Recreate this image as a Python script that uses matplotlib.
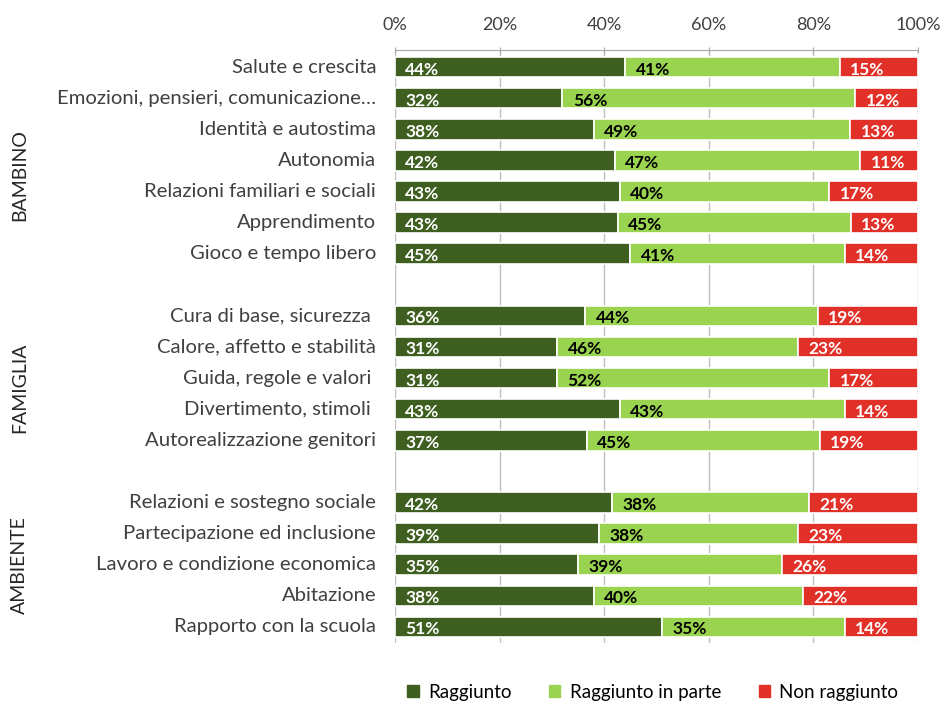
import matplotlib
matplotlib.use('Agg')
from matplotlib import pyplot as plt
from matplotlib.patches import Patch
import numpy as np

plt.rcParams['font.family'] = ['Lato', 'DejaVu Sans']

categories = [
    'Salute e crescita', 'Emozioni, pensieri, comunicazione…', 'Identità e autostima',
    'Autonomia', 'Relazioni familiari e sociali', 'Apprendimento', 'Gioco e tempo libero',
    None,
    'Cura di base, sicurezza ', 'Calore, affetto e stabilità', 'Guida, regole e valori ',
    'Divertimento, stimoli ', 'Autorealizzazione genitori',
    None,
    'Relazioni e sostegno sociale', 'Partecipazione ed inclusione',
    'Lavoro e condizione economica', 'Abitazione', 'Rapporto con la scuola',
]
raggiunto = [44, 32, 38, 42, 43, 43, 45, None, 36, 31, 31, 43, 37, None, 42, 39, 35, 38, 51]
in_parte = [41, 56, 49, 47, 40, 45, 41, None, 44, 46, 52, 43, 45, None, 38, 38, 39, 40, 35]
non_raggiunto = [15, 12, 13, 11, 17, 13, 14, None, 19, 23, 17, 14, 19, None, 21, 23, 26, 22, 14]

groups = ['BAMBINO', 'FAMIGLIA', 'AMBIENTE']
series_names = ['Raggiunto', 'Raggiunto in parte', 'Non raggiunto']
colors = ['#3F5F21', '#99D350', '#E03027']
text_colors = ['white', 'black', 'white']

fig = plt.figure(figsize=(9.42, 7.04), dpi=100)
ax = fig.add_axes([0.4193, 0.0866, 0.5552, 0.8424])

rows = [i for i, c in enumerate(categories) if c is not None]
for i in rows:
    vals = [raggiunto[i], in_parte[i], non_raggiunto[i]]
    tot = float(sum(vals))
    left = 0.0
    for k, v in enumerate(vals):
        w = v / tot * 100
        ax.barh(i, w, left=left, height=0.66, color=colors[k],
                edgecolor='white', linewidth=1.2, zorder=2)
        ax.text(left + 2.0, i + 0.08, '%d%%' % v, ha='left', va='center',
                fontsize=12.5, fontweight='bold', color=text_colors[k], zorder=3)
        left += w
    ax.text(-3.6, i, categories[i], ha='right', va='center', fontsize=14.6,
            color='#404040', transform=ax.transData)

ax.set_xlim(0, 100)
ax.set_ylim(18.52, -0.55)
ax.set_xticks(np.arange(0, 101, 20))
ax.set_xticklabels(['%d%%' % t for t in range(0, 101, 20)], fontsize=13, color='#404040')
ax.xaxis.tick_top()
ax.tick_params(axis='x', length=5, color='#A6A6A6', pad=10, direction='inout')
ax.set_yticks([])
ax.grid(axis='x', color='#BFBFBF', linewidth=1, zorder=0)
for s in ['bottom', 'left', 'right']:
    ax.spines[s].set_visible(False)
ax.spines['top'].set_color('#A6A6A6')

# group labels
fig.text(0.021, 1 - 175 / 704, groups[0], rotation=90, ha='center', va='center',
         fontsize=14, color='#262626')
fig.text(0.021, 1 - 388 / 704, groups[1], rotation=90, ha='center', va='center',
         fontsize=14, color='#262626')
fig.text(0.021, 1 - 565 / 704, groups[2], rotation=90, ha='center', va='center',
         fontsize=14, color='#262626')

handles = [Patch(color=c) for c in colors]
fig.legend(handles, series_names, loc='center', bbox_to_anchor=(0.693, 0.017),
           ncol=3, frameon=False, fontsize=13.5, handlelength=0.6, handleheight=0.6,
           handletextpad=0.5, columnspacing=2.0)

plt.savefig('out.png', dpi=100)
